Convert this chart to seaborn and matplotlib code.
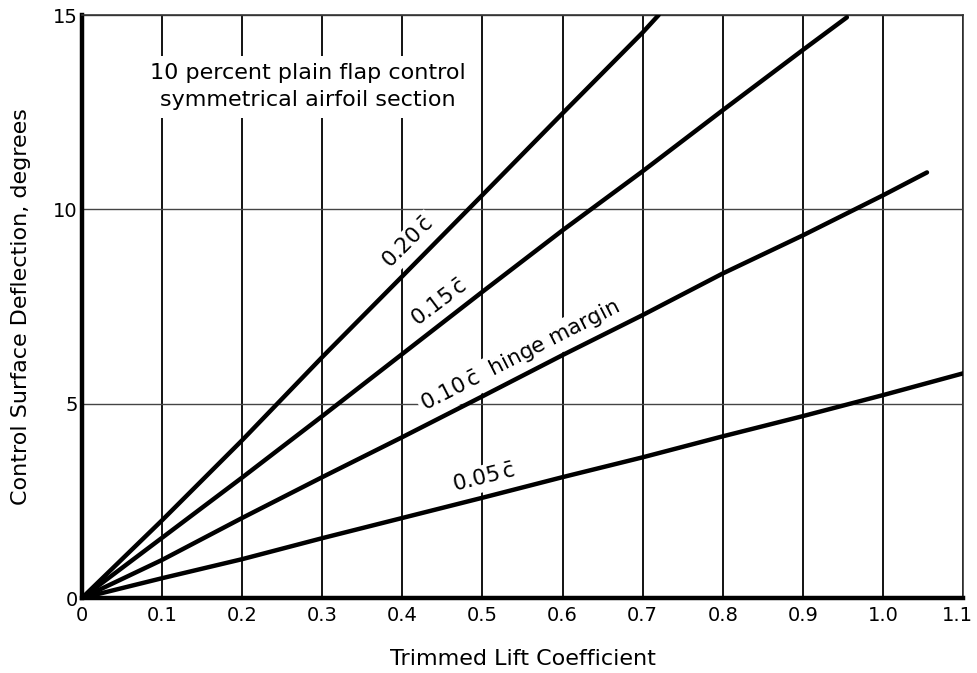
import numpy as np
import pandas as pd
import matplotlib
matplotlib.use("Agg")
import matplotlib.pyplot as plt
import matplotlib.transforms as mtransforms
import seaborn as sns

# Trimmed lift coefficient vs. control surface deflection, per hinge margin
cl_020 = [0.0, 0.1, 0.2, 0.3, 0.4, 0.5, 0.6, 0.7, 0.72]
d_020 = [0.0, 2.0, 4.06, 6.2, 8.28, 10.37, 12.47, 14.55, 15.0]

cl_015 = [0.0, 0.1, 0.2, 0.3, 0.4, 0.5, 0.6, 0.7, 0.8, 0.9, 0.955]
d_015 = [0.0, 1.55, 3.1, 4.68, 6.28, 7.88, 9.46, 10.98, 12.55, 14.1, 14.94]

cl_010 = [0.0, 0.1, 0.2, 0.3, 0.4, 0.5, 0.6, 0.7, 0.8, 0.9, 1.0, 1.055]
d_010 = [0.0, 0.98, 2.06, 3.11, 4.14, 5.19, 6.25, 7.28, 8.35, 9.33, 10.36, 10.95]

cl_005 = [0.0, 0.1, 0.2, 0.3, 0.4, 0.5, 0.6, 0.7, 0.8, 0.9, 1.0, 1.1]
d_005 = [0.0, 0.51, 1.0, 1.54, 2.06, 2.58, 3.11, 3.62, 4.16, 4.68, 5.22, 5.78]

margins = ["0.20", "0.15", "0.10", "0.05"]
x_ticks = [0.0, 0.1, 0.2, 0.3, 0.4, 0.5, 0.6, 0.7, 0.8, 0.9, 1.0, 1.1]
x_tick_labels = ["0", "0.1", "0.2", "0.3", "0.4", "0.5", "0.6", "0.7", "0.8", "0.9", "1.0", "1.1"]
y_ticks = [0, 5, 10, 15]
y_tick_labels = ["0", "5", "10", "15"]

frames = []
for m, cl, d in zip(margins, [cl_020, cl_015, cl_010, cl_005],
                    [d_020, d_015, d_010, d_005]):
    frames.append(pd.DataFrame({"cl": cl, "delta": d, "margin": m}))
df = pd.concat(frames, ignore_index=True)

sns.set_theme(style="white")
plt.rcParams["font.family"] = ["DejaVu Sans"]
plt.rcParams["mathtext.fontset"] = "dejavusans"
plt.rcParams["text.color"] = "black"
plt.rcParams["axes.labelcolor"] = "black"

fig = plt.figure(figsize=(9.77, 6.73), dpi=100)
ax = fig.add_axes([0.0839, 0.1114, 0.9018, 0.8663])

sns.lineplot(data=df, x="cl", y="delta", hue="margin", units="margin",
             estimator=None, sort=False, palette=["black"] * 4,
             linewidth=3.2, legend=False, ax=ax, zorder=3)
for line in ax.get_lines():
    line.set_solid_capstyle("round")

ax.set_xlim(0, 1.1)
ax.set_ylim(0, 15)
ax.set_xticks(x_ticks)
ax.set_xticklabels(x_tick_labels)
ax.set_yticks(y_ticks)
ax.set_yticklabels(y_tick_labels)
ax.tick_params(axis="both", length=0, labelsize=14, colors="black")
ax.tick_params(axis="x", pad=6)
ax.tick_params(axis="y", pad=3)

# keep the last x tick label inside the figure edge
last = ax.get_xticklabels()[-1]
last.set_transform(last.get_transform() +
                   mtransforms.ScaledTranslation(-6 / 100, 0, fig.dpi_scale_trans))

ax.set_axisbelow(True)
ax.xaxis.grid(True, color="black", linewidth=1.3)
ax.yaxis.grid(True, color="#444444", linewidth=1.0)

for side in ["left", "bottom"]:
    ax.spines[side].set_linewidth(3.2)
    ax.spines[side].set_color("black")
for side in ["top", "right"]:
    ax.spines[side].set_linewidth(1.2)
    ax.spines[side].set_color("#333333")

ax.set_xlabel("Trimmed Lift Coefficient", fontsize=16, labelpad=17)
ax.set_ylabel("Control Surface Deflection, degrees", fontsize=16, labelpad=16)

ax.text(0.282, 13.16, "10 percent plain flap control\nsymmetrical airfoil section",
        ha="center", va="center", fontsize=16, linespacing=1.4, zorder=2.5,
        bbox=dict(boxstyle="square,pad=0.35", facecolor="white", edgecolor="none"))

label_bbox = dict(boxstyle="square,pad=0.15", facecolor="white", edgecolor="none")
line_labels = [
    (0.408, 9.13, r"0.20$\,\bar{\mathrm{c}}$", 45),
    (0.446, 7.58, r"0.15$\,\bar{\mathrm{c}}$", 37),
    (0.548, 6.22, r"0.10$\,\bar{\mathrm{c}}$  hinge margin", 27),
    (0.502, 3.08, r"0.05$\,\bar{\mathrm{c}}$", 14),
]
for x, y, s, rot in line_labels:
    ax.text(x, y, s, ha="center", va="center", rotation=rot,
            rotation_mode="anchor", fontsize=15.5, zorder=2.5, bbox=label_bbox)

fig.savefig("out.png", dpi=100, facecolor="white")
